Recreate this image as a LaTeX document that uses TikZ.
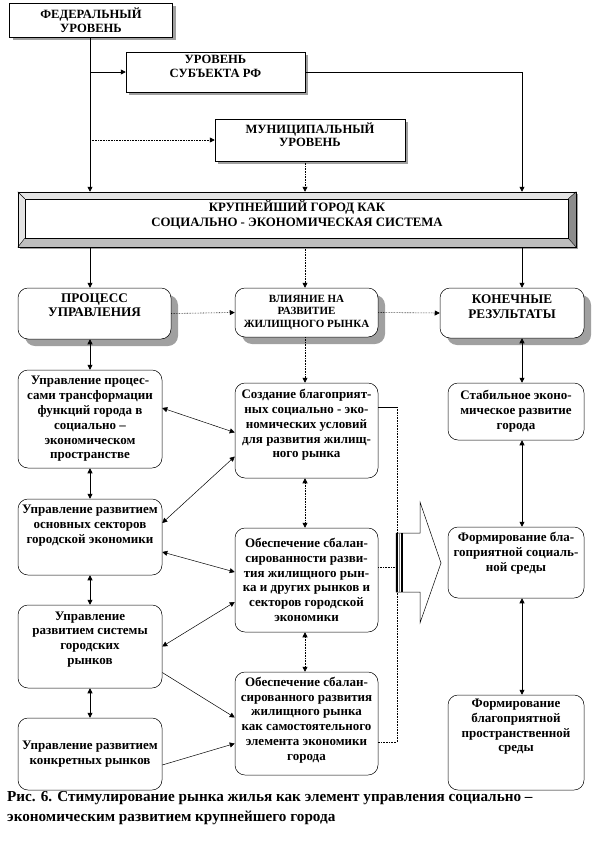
\documentclass[tikz,border=0pt]{standalone}
\usepackage{fontspec}
\setmainfont{Liberation Serif}
\usepackage{tikz}
\usetikzlibrary{arrows.meta,calc}
\definecolor{shadegray}{RGB}{160,160,160}
\definecolor{bevellight}{RGB}{228,228,228}
\definecolor{bevelmid}{RGB}{190,190,190}
\definecolor{beveldark}{RGB}{140,140,140}

\tikzset{
  levelbox/.style={draw,line width=0.5pt,fill=white,align=center,
    font=\bfseries\fontsize{12.6}{13.5}\selectfont},
  headbox/.style={draw,line width=0.5pt,fill=white,rounded corners=10pt,align=center,
    font=\bfseries\fontsize{13.2}{14.5}\selectfont},
  itembox/.style={draw,line width=0.5pt,fill=white,rounded corners=10pt,align=center,
    inner sep=2pt,font=\bfseries\fontsize{13}{14.8}\selectfont},
  lift/.style={text depth=#1},
  arr/.style={-{Triangle[length=5pt,width=5pt]},line width=0.6pt},
  dbl/.style={{Triangle[length=5pt,width=5pt]}-{Triangle[length=5pt,width=5pt]},line width=0.6pt},
  dots/.style={densely dotted}
}

\begin{document}
\begin{tikzpicture}[x=1pt,y=-1pt]
\useasboundingbox (0,0) rectangle (601,846);

% shadows (drawn first, boxes cover them)
\fill[shadegray] (12.5,6) rectangle (175.5,40);
\fill[shadegray] (129,55) rectangle (308,95);
\fill[shadegray] (218,122) rectangle (408,164);
\fill[shadegray] (20,194) rectangle (578,249);
\fill[shadegray,rounded corners=10pt] (25,295) rectangle (178,346);
\fill[shadegray,rounded corners=10pt] (242,295) rectangle (385,344);
\fill[shadegray,rounded corners=10pt] (447,295) rectangle (591,345);

% levels of government
\node[levelbox,minimum width=163pt,minimum height=34pt] (fed) at (91,20) {ФЕДЕРАЛЬНЫЙ\\УРОВЕНЬ};
\node[levelbox,lift=11pt,minimum width=179pt,minimum height=40pt] (subj) at (215.5,72) {УРОВЕНЬ\\СУБЪЕКТА РФ};
\node[levelbox,lift=11pt,minimum width=190pt,minimum height=42pt] (muni) at (310,140) {МУНИЦИПАЛЬНЫЙ\\УРОВЕНЬ};

% the city
\node[draw,line width=0.5pt,fill=white,minimum width=558pt,minimum height=55pt,align=center,
  lift=12pt,font=\bfseries\fontsize{12.8}{15}\selectfont] (city) at (297,219.5)
  {КРУПНЕЙШИЙ ГОРОД КАК\\СОЦИАЛЬНО - ЭКОНОМИЧЕСКАЯ СИСТЕМА};
\coordinate (cnw) at ($(city.north west)+(7,7)$);
\coordinate (cne) at ($(city.north east)+(-8,7)$);
\coordinate (cse) at ($(city.south east)+(-8,-9)$);
\coordinate (csw) at ($(city.south west)+(7,-9)$);
\fill[bevellight] (city.north west) -- (city.north east) -- (cne) -- (cnw) -- cycle;
\fill[bevellight] (city.north west) -- (city.south west) -- (csw) -- (cnw) -- cycle;
\fill[beveldark] (city.north east) -- (city.south east) -- (cse) -- (cne) -- cycle;
\fill[bevelmid] (city.south west) -- (city.south east) -- (cse) -- (csw) -- cycle;
\draw[line width=0.5pt] (city.north west) rectangle (city.south east);
\draw[line width=0.5pt] (cnw) rectangle (cse);
\draw[line width=0.4pt] (city.north west) -- (cnw) (city.north east) -- (cne)
  (city.south east) -- (cse) (city.south west) -- (csw);

% three directions
\node[headbox,lift=17pt,minimum width=153pt,minimum height=51pt] (proc) at (94.5,313.5) {ПРОЦЕСС\\УПРАВЛЕНИЯ};
\node[headbox,minimum width=143pt,minimum height=49pt,font=\bfseries\fontsize{11}{12.5}\selectfont] (infl) at (306.5,312.5) {ВЛИЯНИЕ НА\\РАЗВИТИЕ\\ЖИЛИЩНОГО РЫНКА};
\node[headbox,lift=13pt,minimum width=144pt,minimum height=50pt] (res) at (512,313) {КОНЕЧНЫЕ\\РЕЗУЛЬТАТЫ};

% left column
\node[itembox,minimum width=144pt,minimum height=98pt] (l1) at (90,419) {Управление процес-\\сами трансформации\\функций города в\\социально –\\экономическом\\пространстве};
\node[itembox,lift=25.8pt,minimum width=144pt,minimum height=76pt] (l2) at (90,537) {Управление развитием\\основных секторов\\городской экономики};
\node[itembox,lift=16.8pt,minimum width=144pt,minimum height=83pt] (l3) at (90,646.5) {Управление\\развитием системы\\городских\\рынков};
\node[itembox,minimum width=144pt,minimum height=72pt] (l4) at (90,754) {Управление развитием\\конкретных рынков};

% middle column
\node[itembox,lift=13.8pt,minimum width=143pt,minimum height=95pt] (m1) at (306.5,430.5) {Создание благоприят-\\ных социально - эко-\\номических условий\\для развития жилищ-\\ного рынка};
\node[itembox,minimum width=143pt,minimum height=104pt] (m2) at (306.5,580) {Обеспечение сбалан-\\сированности разви-\\тия жилищного рын-\\ка и других рынков и\\секторов городской\\экономики};
\node[itembox,lift=9.8pt,minimum width=143pt,minimum height=103pt] (m3) at (306.5,723.5) {Обеспечение сбалан-\\сированного развития\\жилищного рынка\\как самостоятельного\\элемента экономики\\города};

% right column
\node[itembox,minimum width=136pt,minimum height=57pt] (r1) at (516,411.5) {Стабильное эконо-\\мическое развитие\\города};
\node[itembox,lift=20.8pt,minimum width=136pt,minimum height=71pt] (r2) at (516,562.5) {Формирование бла-\\гоприятной социаль-\\ной среды};
\node[itembox,lift=34pt,minimum width=136pt,minimum height=95pt] (r3) at (516,742.5) {Формирование\\благоприятной\\пространственной\\среды};

% vertical lines
\coordinate (xl) at (90,0);
\coordinate (xm) at (305,0);
\coordinate (xr) at (522,0);
\coordinate (bx) at (397,0);

\draw[arr] (xl |- fed.south) -- (xl |- city.north);
\draw[arr] (xl |- subj.west) -- (subj.west);
\draw[arr,dots] (xl |- muni.west) -- (muni.west);
\draw[arr] (subj.east) -| (xr |- city.north);
\draw[arr,dots] (xm |- muni.south) -- (xm |- city.north);

\draw[arr] (xl |- city.south) -- (xl |- proc.north);
\draw[arr,dots] (xm |- city.south) -- (xm |- infl.north);
\draw[arr] (xr |- city.south) -- (xr |- res.north);
\draw[arr,dots] (proc.east) -- (infl.west);
\draw[arr,dots] (infl.east) -- (res.west);

\foreach \a/\b in {proc/l1,l1/l2,l2/l3,l3/l4}
  \draw[dbl] (xl |- \a.south) -- (xl |- \b.north);
\draw[arr,dots] (xm |- infl.south) -- (xm |- m1.north);
\foreach \a/\b in {m1/m2,m2/m3}
  \draw[dbl,dots] (xm |- \a.south) -- (xm |- \b.north);
\foreach \a/\b in {res/r1,r1/r2,r2/r3}
  \draw[dbl] (xr |- \a.south) -- (xr |- \b.north);

% links between columns
\draw[dbl,line width=0.5pt] ([yshift=11pt]l1.east) -- ([yshift=-2pt]m1.west);
\draw[dbl,line width=0.5pt] ([yshift=14pt]l2.east) -- ([yshift=-26pt]m1.west);
\draw[dbl,line width=0.5pt] ([yshift=-15pt]l2.east) -- ([yshift=8pt]m2.west);
\draw[dbl,line width=0.5pt] (l3.east) -- ([yshift=-22pt]m2.west);
\draw[arr,line width=0.5pt] ([yshift=-26pt]l3.east) -- ([yshift=6pt]m3.west);
\draw[arr,line width=0.5pt] ([yshift=-11pt]l4.east) -- ([yshift=-20pt]m3.west);

% bracket and big arrow
\coordinate (bt) at ([yshift=23.5pt]m1.east);
\coordinate (bm) at ([yshift=13pt]m2.east);
\coordinate (bb) at ([yshift=-18.5pt]m3.east);
\draw[line width=0.5pt] (bt) -- (bx |- bt);
\draw[dots,line width=0.6pt] (bx |- bt) -- (bx |- bb) -- (bb);
\draw[dots,line width=0.6pt] (bm) -- (bx |- bm);
\draw[line width=0.5pt,fill=white] (396,533) -- (420,533) -- (420,502) -- (441,563) -- (420,623) -- (420,592) -- (396,592) -- cycle;
\foreach \x/\c in {397/black,399.5/gray,402/black}
  \draw[line width=1.2pt,\c] (\x,533) -- (\x,592);

% caption
\node[anchor=north west,align=left,inner sep=0pt,font=\bfseries\fontsize{15.2}{20}\selectfont] (cap) at (7,791) {Рис. 6. Стимулирование рынка жилья как элемент управления социально –\\экономическим развитием крупнейшего города};
\end{tikzpicture}
\end{document}
